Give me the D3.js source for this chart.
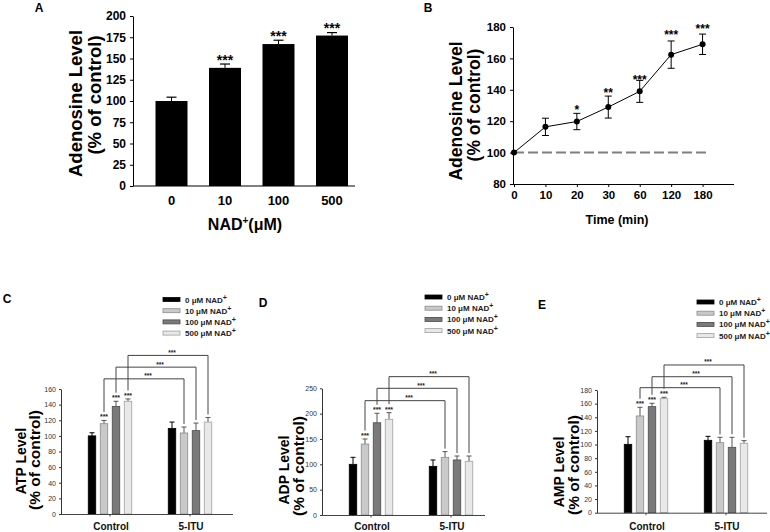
<!DOCTYPE html>
<html><head><meta charset="utf-8">
<script src="https://cdn.jsdelivr.net/npm/d3@7"></script>
<style>
body{margin:0;background:#fff;}
svg{display:block;font-family:"Liberation Sans",Arial,sans-serif;}
</style></head><body>
<svg id="c" width="770" height="532"></svg>
<script>
// ---------- Panel A data ----------
const doseCats = ["0", "10", "100", "500"];
const adoMean = [100, 139, 167, 177];
const adoErr = [4.5, 4.5, 4.5, 3.5];
const adoSig = ["", "***", "***", "***"];
const adoTicks = [0, 25, 50, 75, 100, 125, 150, 175, 200];

// ---------- Panel B data ----------
const timeCats = ["0", "10", "20", "30", "60", "120", "180"];
const timeMean = [100, 116.4, 119.8, 129, 139, 162.4, 169];
const timeErr = [0, 5.5, 5.2, 7, 7, 8.7, 6.5];
const timeSig = ["", "", "*", "**", "***", "***", "***"];
const timeSigAt = [null, null, 129, 140, 148, 176.6, 180.6];
const timeTicks = [80, 100, 120, 140, 160, 180];

// ---------- Panels C–E data ----------
const groups = ["Control", "5-ITU"];
const nadLevels = ["0", "10", "100", "500"];
const atpMean = [[100, 115.6, 137.6, 144.3], [109.6, 103.7, 106.7, 117.7]];
const atpErr  = [[4, 4.2, 6.7, 3], [8.1, 7.6, 9.7, 5.9]];
const atpBracket = [173, 188, 203];
const atpTicks = [0, 20, 40, 60, 80, 100, 120, 140, 160];

const adpMean = [[100, 140, 182, 188.8], [96, 113.8, 108.6, 106]];
const adpErr  = [[13.8, 10, 18.7, 13.2], [12.6, 11.2, 7.8, 10.4]];
const adpBracket = [225.6, 250, 273];
const adpTicks = [0, 50, 100, 150, 200, 250];

const ampMean = [[100.3, 141.9, 155.6, 167.3], [106.2, 102.7, 95.9, 101.8]];
const ampErr  = [[11.2, 12.7, 4.9, 2], [5.8, 7.9, 14.7, 3.9]];
const ampBracket = [183.4, 199.5, 216.7];
const ampTicks = [0, 20, 40, 60, 80, 100, 120, 140, 160, 180];

const barSig = ["", "***", "***", "***"];

const svg = d3.select("#c");
const FONT = '"Liberation Sans", Arial, sans-serif';

function styleAxis(g, size, weight, color) {
  g.attr("font-family", FONT);
  g.selectAll("text").attr("font-size", size).attr("font-weight", weight).attr("fill", color);
  g.selectAll("path,line").attr("stroke", color);
}

// ================= Panel A =================
(function () {
  const left = 133, right = 355, yB = 186, yT = 16;
  const x = d3.scaleBand().domain(doseCats).range([148.5, right]).paddingInner(0.402).paddingOuter(0.131);
  const y = d3.scaleLinear().domain([0, 200]).range([yB, yT]);
  const g = svg.append("g");
  const bw = x.bandwidth();
  g.selectAll("rect.bar").data(doseCats).join("rect")
    .attr("x", d => x(d)).attr("width", bw)
    .attr("y", (d, i) => y(adoMean[i])).attr("height", (d, i) => y(0) - y(adoMean[i]))
    .attr("fill", "#000");
  doseCats.forEach((d, i) => {
    const cx = x(d) + bw / 2, top = y(adoMean[i] + adoErr[i]);
    g.append("line").attr("x1", cx).attr("x2", cx).attr("y1", y(adoMean[i])).attr("y2", top).attr("stroke", "#000");
    g.append("line").attr("x1", cx - 5).attr("x2", cx + 5).attr("y1", top).attr("y2", top).attr("stroke", "#000").attr("stroke-width", 1.2);
    if (adoSig[i]) g.append("text").attr("x", cx).attr("y", top + 0.5).attr("text-anchor", "middle")
      .attr("font-size", 14).attr("font-weight", "bold").attr("font-family", FONT).text(adoSig[i]);
    g.append("text").attr("x", cx).attr("y", 205).attr("text-anchor", "middle")
      .attr("font-size", 13).attr("font-weight", "bold").attr("font-family", FONT).text(d);
  });
  const ya = g.append("g").attr("transform", `translate(${left},0)`)
    .call(d3.axisLeft(y).tickValues(adoTicks).tickSize(3).tickSizeOuter(0).tickPadding(4));
  styleAxis(ya, 12, "bold", "#000");
  g.append("line").attr("x1", left).attr("x2", right).attr("y1", yB).attr("y2", yB).attr("stroke", "#000");
  // titles
  g.append("text").attr("transform", "translate(75,103.5) rotate(-90)").attr("text-anchor", "middle")
    .attr("dominant-baseline", "central").attr("font-size", 18.5).attr("font-weight", "bold").attr("font-family", FONT).text("Adenosine Level");
  g.append("text").attr("transform", "translate(94,95) rotate(-90)").attr("text-anchor", "middle")
    .attr("dominant-baseline", "central").attr("font-size", 18.5).attr("font-weight", "bold").attr("font-family", FONT).text("(% of control)");
  const xt = g.append("text").attr("x", 245).attr("y", 230).attr("text-anchor", "middle")
    .attr("font-size", 16).attr("font-weight", "bold").attr("font-family", FONT);
  xt.append("tspan").text("NAD");
  xt.append("tspan").attr("dy", -6).attr("font-size", 10).text("+");
  xt.append("tspan").attr("dy", 6).text("(μM)");
  g.append("text").attr("x", 39).attr("y", 11.5).attr("text-anchor", "middle")
    .attr("font-size", 12).attr("font-weight", "bold").attr("font-family", FONT).text("A");
})();

// ================= Panel B =================
(function () {
  const left = 513, right = 734, yB = 184, yT = 27;
  const x = d3.scaleLinear().domain([0, 7]).range([514, 734]);
  const y = d3.scaleLinear().domain([80, 180]).range([yB, yT]);
  const g = svg.append("g");
  // dashed reference line
  g.append("line").attr("x1", x(0)).attr("x2", x(6) + 4).attr("y1", y(100)).attr("y2", y(100))
    .attr("stroke", "#7f7f7f").attr("stroke-width", 2).attr("stroke-dasharray", "10,4");
  const idx = d3.range(timeCats.length);
  g.append("path").datum(idx).attr("fill", "none").attr("stroke", "#000").attr("stroke-width", 1)
    .attr("d", d3.line().x(i => x(i)).y(i => y(timeMean[i])));
  idx.forEach(i => {
    if (timeErr[i] > 0) {
      const hi = y(timeMean[i] + timeErr[i]), lo = y(timeMean[i] - timeErr[i]);
      g.append("line").attr("x1", x(i)).attr("x2", x(i)).attr("y1", hi).attr("y2", lo).attr("stroke", "#000");
      [hi, lo].forEach(v => g.append("line").attr("x1", x(i) - 3.5).attr("x2", x(i) + 3.5).attr("y1", v).attr("y2", v).attr("stroke", "#000"));
    }
    if (timeSig[i]) g.append("text").attr("x", x(i)).attr("y", y(timeSigAt[i]) + 6.7).attr("text-anchor", "middle")
      .attr("font-size", 12).attr("font-weight", "bold").attr("font-family", FONT).text(timeSig[i]);
  });
  g.selectAll("circle").data(idx).join("circle").attr("cx", i => x(i)).attr("cy", i => y(timeMean[i])).attr("r", 3).attr("fill", "#000");
  const ya = g.append("g").attr("transform", `translate(${left},0)`)
    .call(d3.axisLeft(y).tickValues(timeTicks).tickSize(3).tickSizeOuter(0).tickPadding(4));
  styleAxis(ya, 11.5, "bold", "#000");
  const xa = g.append("g").attr("transform", `translate(0,${yB})`)
    .call(d3.axisBottom(x).tickValues(idx).tickFormat(i => timeCats[i]).tickSize(3).tickSizeOuter(0).tickPadding(4));
  styleAxis(xa, 11.5, "bold", "#000");
  xa.select(".domain").attr("d", `M${left},0.5H${right}`);
  g.append("text").attr("transform", "translate(456,111) rotate(-90)").attr("text-anchor", "middle")
    .attr("dominant-baseline", "central").attr("font-size", 17.5).attr("font-weight", "bold").attr("font-family", FONT).text("Adenosine Level");
  g.append("text").attr("transform", "translate(473.5,105) rotate(-90)").attr("text-anchor", "middle")
    .attr("dominant-baseline", "central").attr("font-size", 17.5).attr("font-weight", "bold").attr("font-family", FONT).text("(% of control)");
  g.append("text").attr("x", 617).attr("y", 223.5).attr("text-anchor", "middle")
    .attr("font-size", 12.5).attr("font-weight", "bold").attr("font-family", FONT).text("Time (min)");
  g.append("text").attr("x", 428).attr("y", 11.5).attr("text-anchor", "middle")
    .attr("font-size", 12).attr("font-weight", "bold").attr("font-family", FONT).text("B");
})();

// ================= Panels C, D, E =================
const fills = ["#000000", "#c9c9c9", "#7a7a7a", "#e8e8e8"];
const strokes = ["#000000", "#8c8c8c", "#4a4a4a", "#a0a0a0"];

function bottomPanel(cfg) {
  const g = svg.append("g");
  const y = d3.scaleLinear().domain([0, cfg.max]).range([cfg.y0, cfg.yTop]);
  const gx = d3.scaleBand().domain(groups).range([cfg.left + 9, cfg.left + 169]);
  const ix = d3.scaleBand().domain(nadLevels).range([18.25, 61.75]).paddingInner(0.375).paddingOuter(0);
  const bw = ix.bandwidth();
  const cx = (gi, si) => gx(groups[gi]) + ix(nadLevels[si]) + bw / 2;
  const errTop = (gi, si) => y(cfg.mean[gi][si] + cfg.err[gi][si]);
  const starC = si => errTop(0, si) - 5;

  groups.forEach((grp, gi) => {
    nadLevels.forEach((lv, si) => {
      const v = cfg.mean[gi][si];
      const c = cx(gi, si);
      const ec = si === 0 ? "#000" : "#555";
      g.append("line").attr("x1", c).attr("x2", c).attr("y1", y(v)).attr("y2", errTop(gi, si)).attr("stroke", ec);
      g.append("line").attr("x1", c - 2.5).attr("x2", c + 2.5).attr("y1", errTop(gi, si)).attr("y2", errTop(gi, si)).attr("stroke", ec);
      g.append("rect").attr("x", c - bw / 2).attr("width", bw).attr("y", y(v)).attr("height", y(0) - y(v))
        .attr("fill", fills[si]).attr("stroke", strokes[si]).attr("stroke-width", 0.8);
      if (gi === 0 && barSig[si]) g.append("text").attr("x", c).attr("y", starC(si) + 4).attr("text-anchor", "middle")
        .attr("font-size", 7).attr("font-weight", "bold").attr("font-family", FONT).attr("fill", "#222").text(barSig[si]);
    });
  });
  // brackets
  cfg.bracket.forEach((bv, k) => {
    const si = k + 1;
    const by = y(bv);
    const xl = cx(0, si), xr = cx(1, si);
    const ylEnd = starC(si) - 3.5, yrEnd = errTop(1, si) - 3;
    g.append("path").attr("fill", "none").attr("stroke", "#444").attr("stroke-width", 1)
      .attr("d", `M${xl},${ylEnd}V${by}H${xr}V${yrEnd}`);
    g.append("text").attr("x", xl + (xr - xl) * 0.55).attr("y", by - 0.6).attr("text-anchor", "middle")
      .attr("font-size", 6.5).attr("font-weight", "bold").attr("font-family", FONT).attr("fill", "#222").text("***");
  });
  // axes
  const ya = g.append("g").attr("transform", `translate(${cfg.left},0)`)
    .call(d3.axisLeft(y).tickValues(cfg.ticks).tickSize(2).tickSizeOuter(0).tickPadding(3));
  styleAxis(ya, 7, "normal", "#333");
  g.append("line").attr("x1", cfg.left).attr("x2", cfg.end).attr("y1", cfg.y0 + 0.5).attr("y2", cfg.y0 + 0.5).attr("stroke", "#444");
  groups.forEach(grp => {
    const c = gx(grp) + gx.bandwidth() / 2;
    g.append("line").attr("x1", c).attr("x2", c).attr("y1", cfg.y0).attr("y2", cfg.y0 + 2.5).attr("stroke", "#444");
    g.append("text").attr("x", c + 1).attr("y", 530).attr("text-anchor", "middle")
      .attr("font-size", 10).attr("font-weight", "bold").attr("font-family", FONT).attr("fill", "#111").text(grp);
  });
  // titles
  g.append("text").attr("transform", `translate(${cfg.t1[0]},${cfg.t1[1]}) rotate(-90)`).attr("text-anchor", "middle")
    .attr("dominant-baseline", "central").attr("font-size", 14).attr("font-weight", "bold").attr("font-family", FONT).text(cfg.title);
  g.append("text").attr("transform", `translate(${cfg.t2[0]},${cfg.t2[1]}) rotate(-90)`).attr("text-anchor", "middle")
    .attr("dominant-baseline", "central").attr("font-size", 15.5).attr("font-weight", "bold").attr("font-family", FONT).text("(% of control)");
  g.append("text").attr("x", cfg.lab[0]).attr("y", cfg.lab[1]).attr("text-anchor", "middle")
    .attr("font-size", 12).attr("font-weight", "bold").attr("font-family", FONT).text(cfg.label);
  // legend
  nadLevels.forEach((lv, si) => {
    const ly = cfg.leg[1] + si * 11.2;
    g.append("rect").attr("x", cfg.leg[0]).attr("y", ly - 2).attr("width", 17).attr("height", 4)
      .attr("fill", fills[si]).attr("stroke", strokes[si]).attr("stroke-width", 0.8);
    const t = g.append("text").attr("x", cfg.leg[0] + 22).attr("y", ly + 3).attr("font-size", 8).attr("font-weight", "bold")
      .attr("font-family", FONT).attr("fill", "#222");
    t.append("tspan").text(lv + " μM NAD");
    t.append("tspan").attr("dy", -3).attr("font-size", 7).text("+");
  });
}

bottomPanel({left: 61, end: 233, y0: 514, yTop: 389, max: 160, ticks: atpTicks, mean: atpMean, err: atpErr,
  bracket: atpBracket, title: "ATP Level", t1: [21, 461], t2: [34.5, 460], lab: [7, 303], leg: [163, 299.5], label: "C"});
bottomPanel({left: 322, end: 485, y0: 515, yTop: 388.3, max: 250, ticks: adpTicks, mean: adpMean, err: adpErr,
  bracket: adpBracket, title: "ADP Level", t1: [284, 470], t2: [298, 466], lab: [263, 307], leg: [425, 297], label: "D"});
bottomPanel({left: 597, end: 767, y0: 512.7, yTop: 390, max: 180, ticks: ampTicks, mean: ampMean, err: ampErr,
  bracket: ampBracket, title: "AMP Level", t1: [559, 472], t2: [573, 465], lab: [542, 308.5], leg: [697, 302], label: "E"});
</script>
</body></html>
